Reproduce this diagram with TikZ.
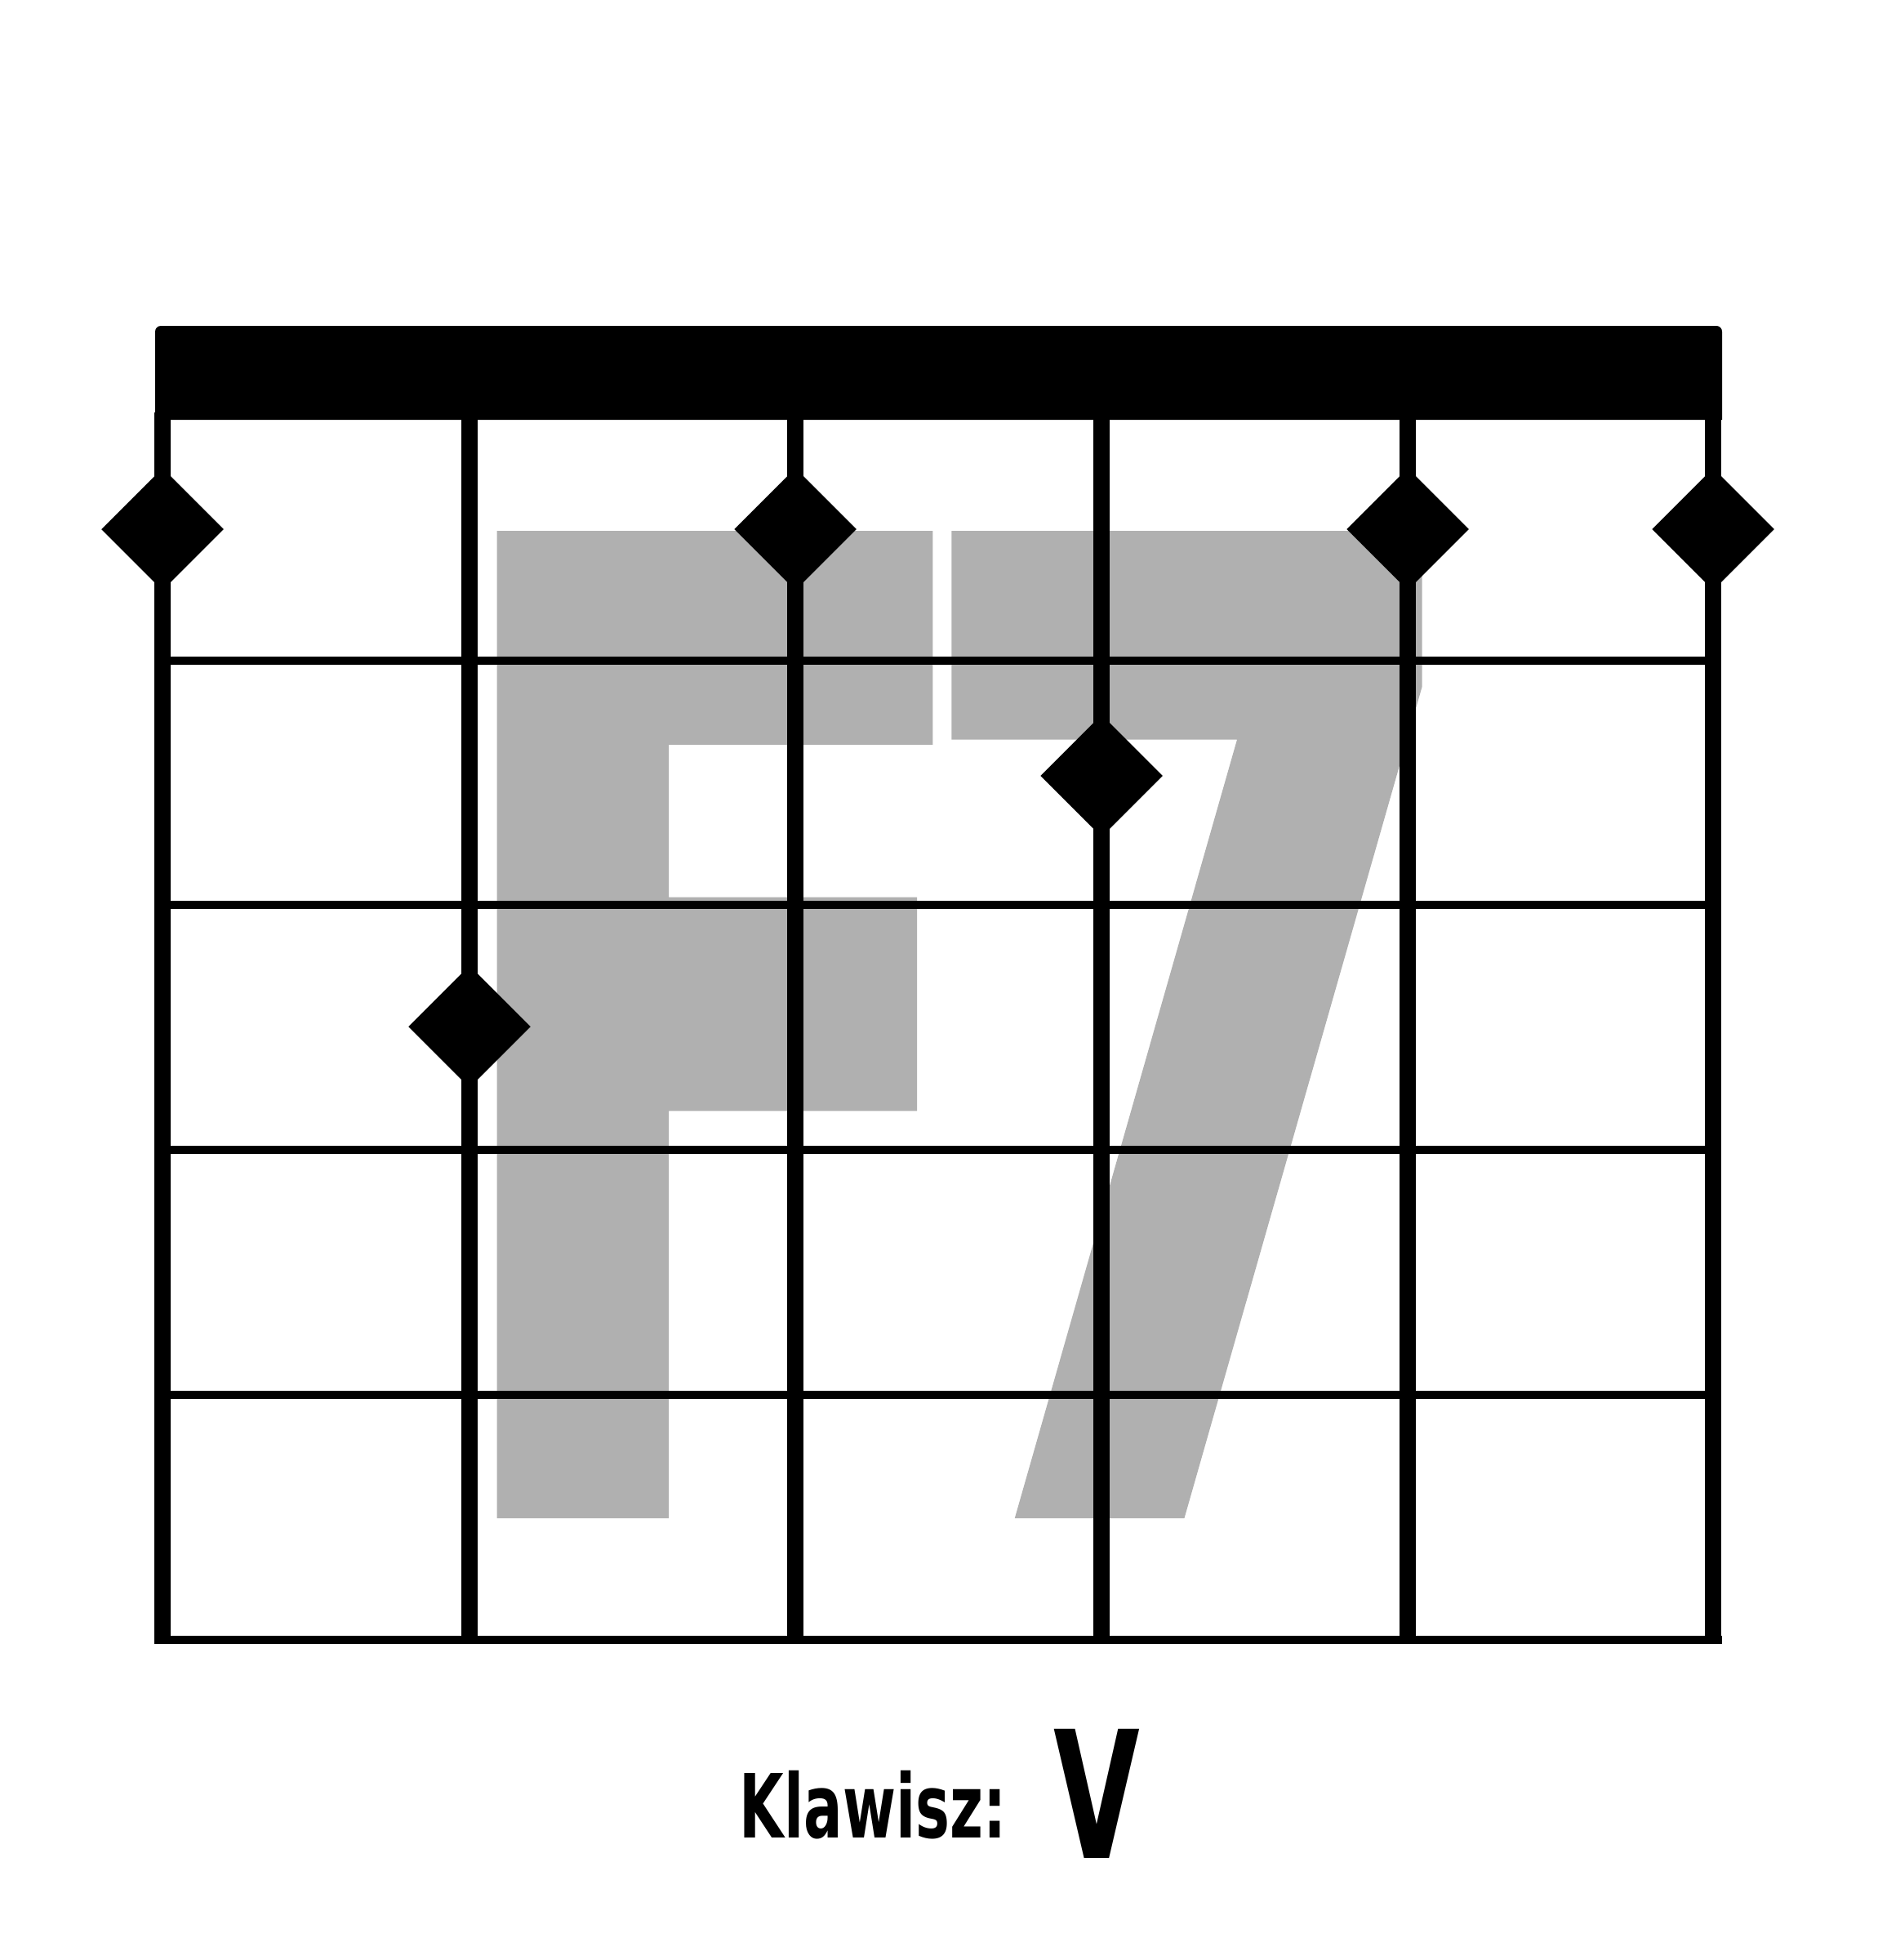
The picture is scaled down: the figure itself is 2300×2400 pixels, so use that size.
\documentclass[tikz,border=0pt]{standalone}
\usepackage{fontspec}
\usetikzlibrary{shapes.geometric, positioning}
\newfontfamily\chordfont{DejaVu Sans}[BoldFeatures={FakeBold=2}]
\newfontfamily\keyfont{DejaVu Sans}
\definecolor{chordgray}{RGB}{176,176,176}

\begin{document}
\begin{tikzpicture}[
    x=0.01cm, y=-0.01cm,
    gstring/.style={line width=0.2cm},
    fret/.style={line width=0.1cm},
    finger/.style={
        diamond,
        aspect=1,
        fill=black,
        inner sep=0pt,
        minimum width=1.5cm,
        minimum height=1.5cm
    },
    chordname/.style={
        text=chordgray,
        font=\chordfont\bfseries\fontsize{45.9}{45.9}\selectfont,
        inner sep=0pt,
        text height=34pt,
        text depth=0pt,
        anchor=base,
        xscale=6.27,
        yscale=10
    },
    keylabel/.style={
        font=\keyfont\bfseries,
        inner sep=0pt,
        anchor=base
    }
]
\useasboundingbox (0,0) rectangle (2300,2400);

% Chord name behind the grid
\node[chordname] (chord) at (1169,1843) {F\kern-0.108em 7};

% Nut
\fill (190,514) [rounded corners=0.7mm] -- (190,399) -- (2109,399)
    [sharp corners] -- (2109,514) -- cycle;

% Strings
\foreach \x in {199,575,974,1349,1724,2098}
    \draw[gstring] (\x,505) -- (\x,2013);

% Frets
\foreach \y in {809,1108,1408,1708}
    \draw[fret] (199,\y) -- (2098,\y);
\draw[fret] (190,2008) -- (2109,2008);

% Finger positions
\node[finger] (e6) at (199,648)  {};
\node[finger] (a5) at (575,1257) {};
\node[finger] (d4) at (974,648)  {};
\node[finger] (g3) at (1349,950) {};
\node[finger] (b2) at (1724,648) {};
\node[finger] (e1) at (2098,648) {};

% Key
\node[keylabel, font=\keyfont\bfseries\fontsize{30.8}{32}\selectfont, xscale=0.65]
    (klawisz) at (1069,2250) {Klawisz:};
\node[keylabel, font=\keyfont\bfseries\fontsize{61.7}{64}\selectfont, xscale=0.63]
    (key) at (1343,2275) {V};

\end{tikzpicture}
\end{document}
